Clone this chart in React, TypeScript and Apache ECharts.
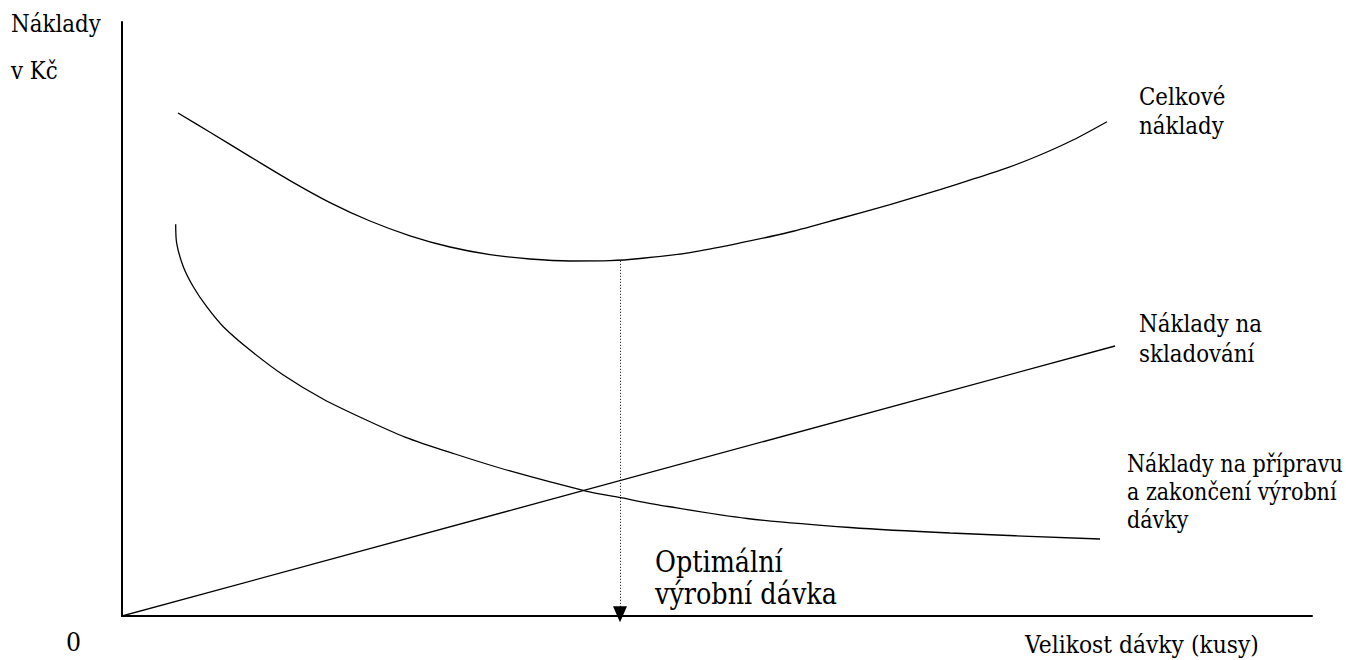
import React, { useEffect, useRef } from "react";
import * as echarts from "echarts";

// x: batch size (abstract units), y: cost (abstract units)
const totalCost: [number, number][] = [
  [5.6, 83.83], [8.8, 80.63], [12.8, 76.57], [16.8, 72.57], [20.8, 68.9], [24.8, 65.83],
  [28.8, 63.37], [32.8, 61.5], [36.8, 60.23], [40.8, 59.5], [44.8, 59.17], [48.8, 59.23],
  [51.8, 59.58], [56.8, 60.58], [61.8, 62.17], [66.8, 64.0], [71.8, 66.25], [76.8, 68.58],
  [81.8, 71.08], [85.3, 72.92], [88.5, 74.67], [91.8, 76.83], [95.1, 79.33], [98.5, 82.38],
];
const setupCost: [number, number][] = [
  [5.37, 65.28], [5.47, 62.12], [6.13, 58.22], [7.13, 54.88], [8.47, 51.55], [10.13, 48.22],
  [12.8, 44.33], [16.13, 40.17], [20.1, 36.17], [24.0, 33.0], [28.3, 29.83], [33.3, 27.0],
  [38.8, 24.17], [46.4, 20.83], [50.0, 19.67], [54.6, 18.25], [62.5, 16.25], [72.8, 14.75],
  [82.8, 13.83], [97.8, 12.83],
];
const storageCost: [number, number][] = [[-1.1, -0.5], [99.3, 45.0]];
const optimumX = 49.8;
const optimumY = 59.2;

const yLabel = ["Náklady", "v Kč"];
const xLabel = "Velikost dávky (kusy)";
const zeroLabel = "0";
const totalLabel = ["Celkové", "náklady"];
const storageLabel = ["Náklady na", "skladování"];
const setupLabel = ["Náklady na přípravu", "a zakončení výrobní", "dávky"];
const optimumLabel = ["Optimální", "výrobní dávka"];

const FONT = "DejaVu Serif";

function txt(text: string, x: number, y: number, size: number, sx = 0.91) {
  return {
    type: "text",
    x,
    y,
    scaleX: sx,
    silent: true,
    style: {
      text,
      fontFamily: FONT,
      fontSize: size,
      fill: "#000",
      align: "left",
      verticalAlign: "middle",
    },
  };
}

export default function App() {
  const ref = useRef<HTMLDivElement>(null);
  useEffect(() => {
    if (!ref.current) return;
    const chart = echarts.init(ref.current, undefined, { renderer: "svg" });
    const lineStyle = { color: "#000", width: 1.3 };
    chart.setOption({
      animation: false,
      backgroundColor: "#fff",
      grid: { left: 122, top: 22, width: 1190, height: 594 },
      xAxis: {
        type: "value",
        min: 0,
        max: 119,
        axisLine: { show: true, lineStyle: { color: "#000", width: 2 } },
        axisTick: { show: false },
        axisLabel: { show: false },
        splitLine: { show: false },
      },
      yAxis: {
        type: "value",
        min: 0,
        max: 99,
        axisLine: { show: true, lineStyle: { color: "#000", width: 2 } },
        axisTick: { show: false },
        axisLabel: { show: false },
        splitLine: { show: false },
      },
      series: [
        { type: "line", data: totalCost, smooth: 0.3, showSymbol: false, lineStyle, silent: true },
        { type: "line", data: setupCost, smooth: 0.3, showSymbol: false, lineStyle, silent: true },
        {
          type: "line",
          data: storageCost,
          showSymbol: false,
          clip: false,
          lineStyle,
          silent: true,
          markLine: {
            silent: true,
            symbol: ["none", "triangle"],
            symbolSize: [14, 16],
            label: { show: false },
            lineStyle: { color: "#000", width: 1, type: [1, 2] },
            data: [[{ coord: [optimumX, optimumY] }, { coord: [optimumX, 0.3] }]],
          },
        },
      ],
      graphic: [
        txt(yLabel[0], 11, 24, 23.5),
        txt(yLabel[1], 11, 71, 23.5),
        txt(totalLabel[0], 1139, 97, 23.5),
        txt(totalLabel[1], 1139, 126, 23.5),
        txt(storageLabel[0], 1139, 324, 23.5),
        txt(storageLabel[1], 1139, 354, 23.5),
        txt(setupLabel[0], 1127, 464, 23.5, 0.88),
        txt(setupLabel[1], 1127, 492, 23.5, 0.88),
        txt(setupLabel[2], 1127, 520, 23.5, 0.88),
        txt(optimumLabel[0], 655, 562, 29, 0.88),
        txt(optimumLabel[1], 655, 594, 29, 0.88),
        txt(zeroLabel, 66, 642, 26),
        txt(xLabel, 1025, 645, 23.5, 0.93),
      ],
    });
    return () => chart.dispose();
  }, []);
  return (
    <div
      ref={ref}
      style={{ position: "fixed", left: 0, top: 0, width: 1346, height: 660, background: "#fff" }}
    />
  );
}
